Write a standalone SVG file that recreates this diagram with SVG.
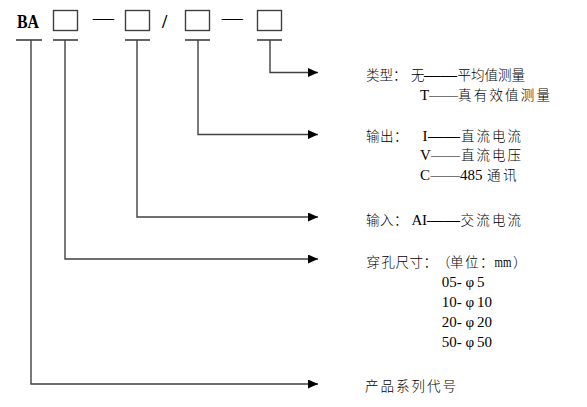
<svg xmlns="http://www.w3.org/2000/svg" width="587" height="407" viewBox="0 0 587 407">
<style>
.bg{fill:#ffffff}
.box{fill:none;stroke:#404040;stroke-width:1.4}
.ul{stroke:#222;stroke-width:1.4}
.con{fill:none;stroke:#404040;stroke-width:1.4}
.t{font-family:"Liberation Serif","Noto Sans CJK SC",serif;font-size:13.5px;fill:#000}
.cjk{font-family:"Noto Sans CJK SC",sans-serif;font-weight:300}
.lat{font-family:"Liberation Serif",serif;font-size:15px;font-weight:normal}
.hd{font-family:"Liberation Serif",serif;fill:#000;font-weight:normal}
</style>
<defs>
<marker id="arr" markerUnits="userSpaceOnUse" markerWidth="10" markerHeight="9" refX="10" refY="4.5" orient="auto">
<path d="M0,0 L10,4.5 L0,9 Z" fill="#000"/>
</marker>
</defs>
<rect class="bg" x="0" y="0" width="587" height="407"/>

<g id="code">
<text class="hd" x="17" y="27.7" font-size="18.5" style="font-weight:bold" textLength="22" lengthAdjust="spacingAndGlyphs">BA</text>
<text class="hd" x="92.7" y="25" font-size="21.3">—</text>
<text class="hd" x="162" y="28" font-size="19" style="font-weight:bold">/</text>
<text class="hd" x="221.7" y="25" font-size="21">—</text>
<line class="ul" x1="16" y1="40" x2="42" y2="40"/>
</g>
<g id="field1">
<rect class="box" x="53.5" y="10.5" width="24" height="20"/>
<line class="ul" x1="53" y1="40" x2="78" y2="40"/>
</g>
<g id="field2">
<rect class="box" x="125.5" y="10.5" width="24" height="20"/>
<line class="ul" x1="125" y1="40" x2="150" y2="40"/>
</g>
<g id="field3">
<rect class="box" x="185.5" y="10.5" width="24" height="20"/>
<line class="ul" x1="185" y1="40" x2="210" y2="40"/>
</g>
<g id="field4">
<rect class="box" x="257.5" y="10.5" width="24" height="20"/>
<line class="ul" x1="257" y1="40" x2="282" y2="40"/>
</g>

<g id="connectors">
<polyline class="con" points="270,40 270,72.5 318,72.5" marker-end="url(#arr)"/>
<polyline class="con" points="198,40 198,134.5 318,134.5" marker-end="url(#arr)"/>
<polyline class="con" points="137,40 137,217 318,217" marker-end="url(#arr)"/>
<polyline class="con" points="65,40 65,259 318,259" marker-end="url(#arr)"/>
<polyline class="con" points="31,40 31,384 318,384" marker-end="url(#arr)"/>
</g>

<g id="type-desc">
<text class="t" y="79.5"><tspan class="cjk" x="366 379.5 393">类型：</tspan><tspan class="cjk" x="411">无</tspan><tspan class="hd" x="424 440.5" font-size="16.5">——</tspan><tspan class="cjk" x="457.5 471 484.5 498 511.5">平均值测量</tspan></text>
<text class="t" y="99.5"><tspan class="lat" x="420">T</tspan><tspan class="hd" x="429 443.5" font-size="14.5">——</tspan><tspan class="cjk" x="458 473.7 489.4 505.1 520.8 536.5">真有效值测量</tspan></text>
</g>

<g id="output-desc">
<text class="t" y="140.5"><tspan class="cjk" x="366 380 394">输出：</tspan><tspan class="lat" x="422.5">I</tspan><tspan class="hd" x="428 444" font-size="16">——</tspan><tspan class="cjk" x="461 476.5 492 507.5">直流电流</tspan></text>
<text class="t" y="160"><tspan class="lat" x="420">V</tspan><tspan class="hd" x="431 445.5" font-size="14.5">——</tspan><tspan class="cjk" x="461 476.5 492 507.5">直流电压</tspan></text>
<text class="t" y="179.5"><tspan class="lat" x="420">C</tspan><tspan class="hd" x="430.5 445.3" font-size="14.8">——</tspan><tspan class="lat" x="460">485</tspan><tspan class="cjk" x="487 503">通讯</tspan></text>
</g>

<g id="input-desc">
<text class="t" y="224.5"><tspan class="cjk" x="366 380 394">输入：</tspan><tspan class="lat" x="411.5 422">AI</tspan><tspan class="hd" x="427 443.5" font-size="16.5">——</tspan><tspan class="cjk" x="460.5 476.2 491.9 507.6">交流电流</tspan></text>
</g>

<g id="hole-desc">
<text class="t" y="266.5"><tspan class="cjk" x="366.5 381.5 395.5 409.5 423.5">穿孔尺寸：</tspan><tspan class="cjk" x="437">（</tspan><tspan class="cjk" x="450 465 480">单位：</tspan></text>
<text class="lat" transform="translate(494.5,266.5) scale(0.72,1)" x="0" y="0">mm</text>
<text class="t" y="266.5"><tspan class="cjk" x="513">）</tspan></text>
<text class="t" y="286.5"><tspan class="lat" x="441.7">05-</tspan><tspan class="lat" x="465.5">φ</tspan><tspan class="lat" x="477">5</tspan></text>
<text class="t" y="306.5"><tspan class="lat" x="441.7">10-</tspan><tspan class="lat" x="465.5">φ</tspan><tspan class="lat" x="477">10</tspan></text>
<text class="t" y="326.5"><tspan class="lat" x="441.7">20-</tspan><tspan class="lat" x="465.5">φ</tspan><tspan class="lat" x="477">20</tspan></text>
<text class="t" y="346.5"><tspan class="lat" x="441.7">50-</tspan><tspan class="lat" x="465.5">φ</tspan><tspan class="lat" x="477">50</tspan></text>
</g>

<g id="series-desc">
<text class="t cjk" y="391" x="365 380.5 396 411.5 427 442.5">产品系列代号</text>
</g>
</svg>
